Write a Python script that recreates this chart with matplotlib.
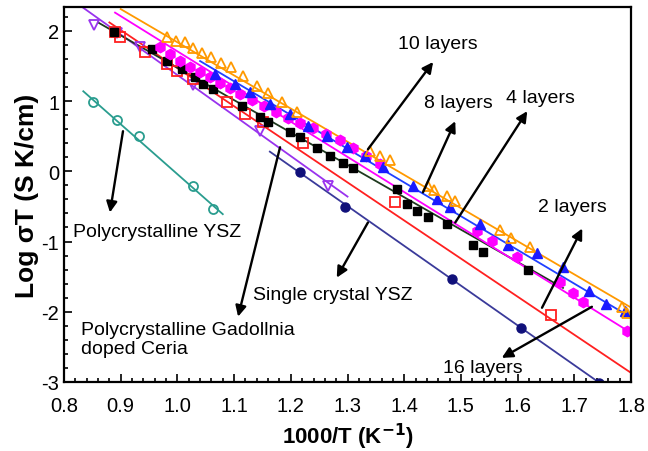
import matplotlib
matplotlib.use("Agg")
import matplotlib.pyplot as plt
from matplotlib.ticker import MultipleLocator

plt.rcParams['font.family'] = ['Liberation Sans', 'DejaVu Sans']
plt.rcParams['axes.unicode_minus'] = False

# ---- data ----
# 10 layers (orange open triangles)
x10 = [0.982, 0.998, 1.013, 1.028, 1.043, 1.059, 1.077, 1.095, 1.116, 1.140, 1.160, 1.184,
       1.211, 1.340, 1.357, 1.375, 1.442, 1.453, 1.475, 1.490, 1.569, 1.588, 1.622, 1.784, 1.793]
y10 = [1.914, 1.857, 1.843, 1.757, 1.686, 1.629, 1.543, 1.486, 1.357, 1.214, 1.114, 0.986,
       0.843, 0.286, 0.214, 0.157, -0.214, -0.271, -0.357, -0.429, -0.829, -0.943, -1.071, -1.929, -2.014]
fit10_x = [0.90, 1.80]
fit10_y = [2.31, -1.94]

# 16 layers (magenta filled)
x16 = [0.969, 0.987, 1.005, 1.022, 1.040, 1.058, 1.075, 1.093, 1.110, 1.132, 1.153, 1.174, 1.195,
       1.216, 1.239, 1.262, 1.287, 1.310, 1.333, 1.357, 1.528, 1.555, 1.599, 1.675, 1.698, 1.715, 1.793]
y16 = [1.771, 1.671, 1.571, 1.486, 1.414, 1.343, 1.257, 1.186, 1.10, 1.014, 0.929, 0.843, 0.757,
       0.686, 0.614, 0.529, 0.443, 0.329, 0.214, 0.10, -0.857, -0.986, -1.214, -1.571, -1.729, -1.857, -2.271]
fit16_x = [0.89, 1.80]
fit16_y = [2.26, -2.30]

# 8 layers (blue filled triangles)
x8 = [1.066, 1.102, 1.128, 1.163, 1.199, 1.230, 1.264, 1.299, 1.331, 1.363, 1.416, 1.458,
      1.481, 1.534, 1.583, 1.634, 1.680, 1.726, 1.756, 1.789]
y8 = [1.386, 1.243, 1.129, 0.957, 0.814, 0.643, 0.5, 0.343, 0.214, 0.057, -0.214, -0.4,
      -0.514, -0.757, -1.043, -1.157, -1.357, -1.70, -1.886, -1.986]
fit8_x = [1.04, 1.80]
fit8_y = [1.57, -2.08]

# 4 layers (black filled squares)
x4 = [0.888, 0.955, 0.982, 1.008, 1.031, 1.045, 1.063, 1.114, 1.146, 1.160, 1.199, 1.216,
      1.246, 1.269, 1.292, 1.310, 1.387, 1.405, 1.423, 1.442, 1.475, 1.521, 1.539, 1.618]
y4 = [1.986, 1.743, 1.571, 1.457, 1.343, 1.243, 1.171, 0.929, 0.771, 0.700, 0.557, 0.486,
      0.329, 0.214, 0.114, 0.043, -0.257, -0.471, -0.571, -0.657, -0.757, -1.043, -1.143, -1.40]
fit4_x = [0.86, 1.68]
fit4_y = [2.12, -1.66]

# 2 layers (red open squares)
x2 = [0.890, 0.899, 0.943, 0.982, 1.000, 1.028, 1.087, 1.119, 1.151, 1.222, 1.384, 1.659]
y2 = [1.986, 1.914, 1.70, 1.53, 1.43, 1.31, 0.99, 0.81, 0.70, 0.41, -0.43, -2.04]
fit2_x = [0.88, 1.80]
fit2_y = [2.12, -2.87]

# Polycrystalline gadolinia doped ceria (violet open triangles)
xgdc = [0.853, 0.893, 0.934, 1.028, 1.146, 1.265]
ygdc = [2.09, 1.97, 1.77, 1.23, 0.57, -0.21]
fitgdc_x = [0.832, 1.30]
fitgdc_y = [2.34, -0.36]

# Single crystal YSZ (navy filled circles)
xsc = [1.216, 1.296, 1.484, 1.606, 1.744]
ysc = [-0.014, -0.514, -1.529, -2.229, -3.01]
fitsc_x = [1.163, 1.76]
fitsc_y = [0.28, -3.10]

# Polycrystalline YSZ (teal open circles)
xpy = [0.851, 0.893, 0.932, 1.028, 1.063]
ypy = [0.99, 0.73, 0.50, -0.21, -0.53]
fitpy_x = [0.834, 1.08]
fitpy_y = [1.14, -0.61]

fig = plt.figure(figsize=(6.48, 4.52), dpi=100)
ax = fig.add_axes([0.0988, 0.1527, 0.875, 0.8296])

# fit lines
ax.plot(fitpy_x, fitpy_y, color='#2a9d8f', lw=1.3)
ax.plot(fitsc_x, fitsc_y, color='#3a3a9a', lw=1.3)
ax.plot(fitgdc_x, fitgdc_y, color='#9933ee', lw=1.3)
ax.plot(fit2_x, fit2_y, color='#ff2020', lw=1.3)
ax.plot(fit4_x, fit4_y, color='#1f3a1f', lw=1.3)
ax.plot(fit8_x, fit8_y, color='#2040ff', lw=1.3)
ax.plot(fit16_x, fit16_y, color='#ff00ff', lw=1.3)
ax.plot(fit10_x, fit10_y, color='#ff9900', lw=1.3)

# markers
ax.plot(xpy, ypy, 'o', ms=6.5, mfc='none', mec='#2a9d8f', mew=1.3)
ax.plot(xsc, ysc, 'o', ms=6.5, color='#10107a')
ax.plot(xgdc, ygdc, 'v', ms=7.5, mfc='none', mec='#9933ee', mew=1.3)
ax.plot(x2, y2, 's', ms=6.5, mfc='none', mec='#ff2020', mew=1.3)
ax.plot(x4, y4, 's', ms=6, color='black')
ax.plot(x16, y16, 'h', ms=7.5, color='#ff00ff')
ax.plot(x8, y8, '^', ms=7, color='#1a1aff')
ax.plot(x10, y10, '^', ms=7.5, mfc='none', mec='#ff9900', mew=1.3)

ax.set_xlim(0.8, 1.8)
ax.set_ylim(-3, 2.34)
ax.xaxis.set_major_locator(MultipleLocator(0.1))
ax.xaxis.set_minor_locator(MultipleLocator(0.02))
ax.yaxis.set_major_locator(MultipleLocator(1))
ax.yaxis.set_minor_locator(MultipleLocator(0.2))
ax.tick_params(which='both', direction='in', top=False, right=False, labelsize=14.5, width=1.2)
ax.tick_params(which='major', length=6)
ax.tick_params(which='minor', length=3)
ax.tick_params(axis='x', which='major', pad=10)
ax.set_xticks(ax.get_xticks())
ax.set_xticklabels([f"{v:.1f}" for v in ax.get_xticks()])
ax.set_xlim(0.8, 1.8)
for s in ax.spines.values():
    s.set_linewidth(1.6)

ax.set_xlabel('1000/T (K$^{\\mathbf{-1}}$)', fontsize=16, fontweight='bold', labelpad=4)
ax.set_ylabel('Log σT (S K/cm)', fontsize=19, fontweight='bold', labelpad=2)

# annotations: arrows drawn from data towards labels
arrow = dict(arrowstyle='-|>', color='black', lw=1.7, mutation_scale=16, shrinkA=0, shrinkB=0)
ax.annotate('', xy=(1.451, 1.557), xytext=(1.336, 0.314), arrowprops=arrow)
ax.annotate('', xy=(1.490, 0.714), xytext=(1.433, -0.30), arrowprops=arrow)
ax.annotate('', xy=(1.617, 0.857), xytext=(1.490, -0.729), arrowprops=arrow)
ax.annotate('', xy=(1.714, -0.814), xytext=(1.643, -1.943), arrowprops=arrow)
ax.annotate('', xy=(1.572, -2.657), xytext=(1.731, -1.929), arrowprops=arrow)
ax.annotate('', xy=(1.281, -1.514), xytext=(1.336, -0.729), arrowprops=arrow)
ax.annotate('', xy=(0.881, -0.586), xytext=(0.904, 0.571), arrowprops=arrow)
ax.annotate('', xy=(1.107, -2.07), xytext=(1.181, 0.343), arrowprops=arrow)

fs = 14
ax.text(1.46, 1.814, '10 layers', fontsize=fs, ha='center', va='center')
ax.text(1.495, 0.986, '8 layers', fontsize=fs, ha='center', va='center')
ax.text(1.64, 1.057, '4 layers', fontsize=fs, ha='center', va='center')
ax.text(1.696, -0.5, '2 layers', fontsize=fs, ha='center', va='center')
ax.text(1.539, -2.80, '16 layers', fontsize=fs, ha='center', va='center')
ax.text(1.133, -1.757, 'Single crystal YSZ', fontsize=fs, ha='left', va='center')
ax.text(0.816, -0.857, 'Polycrystalline YSZ', fontsize=fs, ha='left', va='center')
ax.text(0.830, -2.39, 'Polycrystalline Gadollnia\ndoped Ceria', fontsize=fs, ha='left',
        va='center', linespacing=1.15)

fig.savefig('out.png', dpi=100)
